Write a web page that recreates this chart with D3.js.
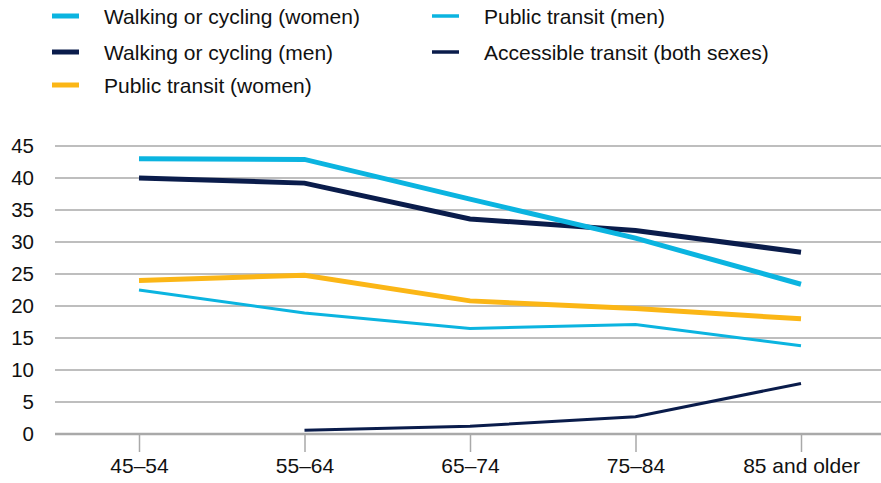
<!DOCTYPE html>
<html>
<head>
<meta charset="utf-8">
<script src="https://cdn.jsdelivr.net/npm/d3@7"></script>
<style>
  body { margin: 0; background: #fff; }
  svg { display: block; font-family: "Liberation Sans", Arial, Helvetica, sans-serif; }
</style>
</head>
<body>
<svg width="881" height="483"></svg>
<script>
// age groups along the x axis
var ageGroups = ["45–54", "55–64", "65–74", "75–84", "85 and older"];
var yTicks = [0, 5, 10, 15, 20, 25, 30, 35, 40, 45];

// values (percent)
var walkWomen = [43.0, 42.9, 36.7, 30.6, 23.4];
var walkMen = [40.0, 39.2, 33.6, 31.8, 28.4];
var transitWomen = [24.0, 24.8, 20.8, 19.6, 18.0];
var transitMen = [22.5, 18.9, 16.5, 17.1, 13.8];
var accessible = [null, 0.6, 1.2, 2.7, 7.9];

var series = [
  {name: "Walking or cycling (women)", values: walkWomen, color: "#0bb4e0", w: 5},
  {name: "Walking or cycling (men)", values: walkMen, color: "#0a1c4b", w: 5},
  {name: "Public transit (women)", values: transitWomen, color: "#fbb616", w: 5},
  {name: "Public transit (men)", values: transitMen, color: "#0bb4e0", w: 3},
  {name: "Accessible transit (both sexes)", values: accessible, color: "#0a1c4b", w: 3}
];

var svg = d3.select("svg"),
    width = +svg.attr("width"),
    height = +svg.attr("height");

var gridLeft = 55, gridRight = 881;

var x = d3.scalePoint().domain(ageGroups).range([139, 801]);
var y = d3.scaleLinear().domain([0, 45]).range([434, 146]);

// gridlines
svg.append("g")
  .selectAll("line")
  .data(yTicks.filter(function(d) { return d > 0; }))
  .enter().append("line")
  .attr("x1", gridLeft).attr("x2", gridRight)
  .attr("y1", function(d) { return y(d); })
  .attr("y2", function(d) { return y(d); })
  .attr("stroke", "#a9a9a9")
  .attr("stroke-width", 1.5);

// y labels
svg.append("g")
  .selectAll("text")
  .data(yTicks)
  .enter().append("text")
  .attr("x", 34)
  .attr("y", function(d) { return y(d); })
  .attr("dy", "0.36em")
  .attr("text-anchor", "end")
  .attr("font-size", 20.5)
  .attr("fill", "#111")
  .text(function(d) { return d; });

// x axis
var xAxis = svg.append("g")
  .attr("transform", "translate(0," + y(0) + ")")
  .call(d3.axisBottom(x).tickSize(18).tickPadding(6));
xAxis.select(".domain").remove();
xAxis.selectAll(".tick line").attr("stroke", "#a9a9a9").attr("stroke-width", 1.5);
xAxis.selectAll(".tick text")
  .attr("font-size", 21)
  .attr("font-family", "Liberation Sans, Arial, sans-serif")
  .attr("fill", "#111");
svg.append("line")
  .attr("x1", gridLeft).attr("x2", gridRight)
  .attr("y1", y(0)).attr("y2", y(0))
  .attr("stroke", "#a9a9a9")
  .attr("stroke-width", 2.5);

// lines
var line = d3.line()
  .defined(function(d) { return d != null; })
  .x(function(d, i) { return x(ageGroups[i]); })
  .y(function(d) { return y(d); });

svg.append("g")
  .selectAll("path")
  .data(series.slice().reverse())
  .enter().append("path")
  .attr("fill", "none")
  .attr("stroke", function(d) { return d.color; })
  .attr("stroke-width", function(d) { return d.w; })
  .attr("d", function(d) { return line(d.values); });

// legend
var legendPos = [
  {x: 52, y: 16}, {x: 52, y: 52}, {x: 52, y: 85},
  {x: 432, y: 16}, {x: 432, y: 52}
];
var leg = svg.append("g")
  .selectAll("g")
  .data(series)
  .enter().append("g")
  .attr("transform", function(d, i) { return "translate(" + legendPos[i].x + "," + legendPos[i].y + ")"; });

leg.append("line")
  .attr("x1", 0).attr("x2", 27)
  .attr("stroke", function(d) { return d.color; })
  .attr("stroke-width", function(d) { return d.w === 5 ? 5 : 3.5; });

leg.append("text")
  .attr("x", 52)
  .attr("dy", "0.36em")
  .attr("font-size", 21)
  .attr("fill", "#111")
  .text(function(d) { return d.name; });
</script>
</body>
</html>
